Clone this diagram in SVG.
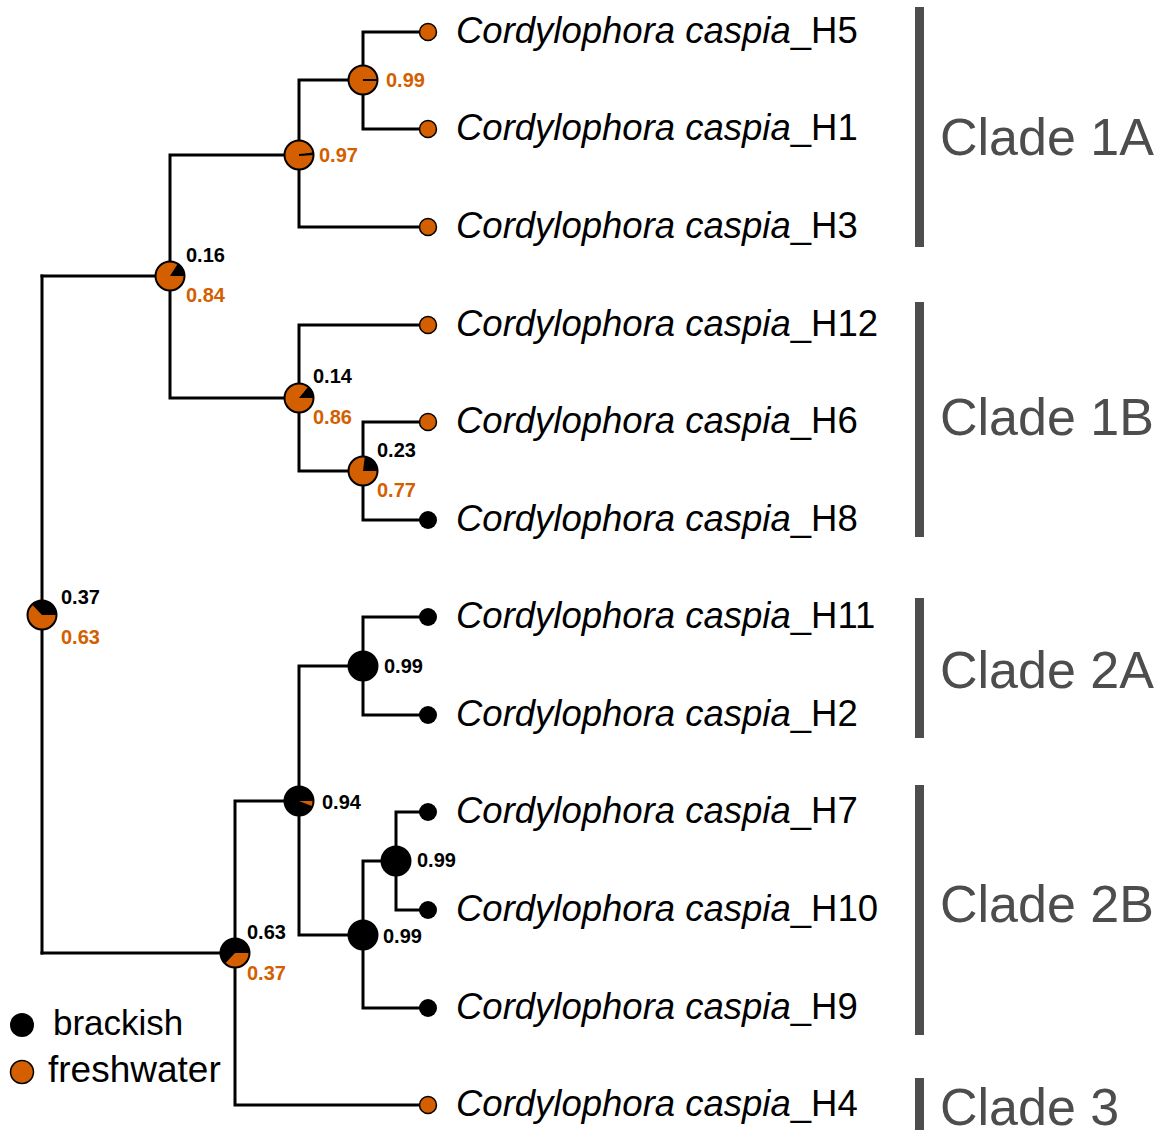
<svg xmlns="http://www.w3.org/2000/svg" width="1165" height="1130" viewBox="0 0 1165 1130">
  <style>
    .br { fill: none; stroke: #000; stroke-width: 3; stroke-linecap: square; }
    .tipF { fill: #d35f00; stroke: #000; stroke-width: 1.5; }
    .tipB { fill: #000; }
    .pieBg { fill: #d35f00; }
    .pieBk { fill: #000; }
    .pieRim { fill: none; stroke: #000; stroke-width: 2; }
    .tip { font-family: "Liberation Sans", Arial, sans-serif; font-size: 36.5px; fill: #000; }
    .tip tspan.sp { font-style: italic; }
    .pp { font-family: "Liberation Sans", Arial, sans-serif; font-size: 20px; font-weight: bold; }
    .pb { fill: #000; }
    .po { fill: #d35f00; }
    .bar { fill: #4d4d4d; }
    .clade { font-family: "Liberation Sans", Arial, sans-serif; font-size: 52px; fill: #4d4d4d; }
    .leg { font-family: "Liberation Sans", Arial, sans-serif; font-size: 35px; fill: #000; }
  </style>

  <!-- branches -->
  <g id="connectors">
    <path class="br" d="M42,276 V953"/>
    <path class="br" d="M42,276 H170"/>
    <path class="br" d="M42,953 H235"/>
    <path class="br" d="M170,155 V398 M170,155 H299 M170,398 H299"/>
    <path class="br" d="M299,80 V227 M299,80 H363 M299,227 H428"/>
    <path class="br" d="M363,32 V129 M363,32 H428 M363,129 H428"/>
    <path class="br" d="M299,325 V471 M299,325 H428 M299,471 H363"/>
    <path class="br" d="M363,422 V520 M363,422 H428 M363,520 H428"/>
    <path class="br" d="M235,801 V1105 M235,801 H299 M235,1105 H428"/>
    <path class="br" d="M299,666 V935 M299,666 H363 M299,935 H363"/>
    <path class="br" d="M363,617 V715 M363,617 H428 M363,715 H428"/>
    <path class="br" d="M363,861 V1008 M363,861 H396 M363,1008 H428"/>
    <path class="br" d="M396,812 V910 M396,812 H428 M396,910 H428"/>
  </g>

  <!-- ancestral state pies -->
  <g id="node-root">
    <circle class="pieBg" cx="42" cy="615" r="14.5"/>
    <path class="pieBk" d="M42,615 L56.5,615 A14.5,14.5 0 0 0 32.07,604.43 Z"/>
    <circle class="pieRim" cx="42" cy="615" r="14.5"/>
    <text class="pp pb" x="61" y="604">0.37</text>
    <text class="pp po" x="61" y="644">0.63</text>
  </g>
  <g id="node-clade1">
    <circle class="pieBg" cx="170" cy="276" r="14.5"/>
    <path class="pieBk" d="M170,276 L184.5,276 A14.5,14.5 0 0 0 177.77,263.76 Z"/>
    <circle class="pieRim" cx="170" cy="276" r="14.5"/>
    <text class="pp pb" x="186" y="262">0.16</text>
    <text class="pp po" x="186" y="302">0.84</text>
  </g>
  <g id="node-clade1A">
    <circle class="pieBg" cx="299" cy="155" r="14.5"/>
    <path class="pieBk" d="M299,155 L313.5,155 A14.5,14.5 0 0 0 313.24,152.28 Z"/>
    <path d="M299,155 L313.5,154" stroke="#000" stroke-width="2"/>
    <circle class="pieRim" cx="299" cy="155" r="14.5"/>
    <text class="pp po" x="319" y="162">0.97</text>
  </g>
  <g id="node-H5-H1">
    <circle class="pieBg" cx="363" cy="80" r="14.5"/>
    <path d="M363,80 L377.5,80" stroke="#000" stroke-width="2"/>
    <circle class="pieRim" cx="363" cy="80" r="14.5"/>
    <text class="pp po" x="386" y="87">0.99</text>
  </g>
  <g id="node-clade1B">
    <circle class="pieBg" cx="299" cy="398" r="14.5"/>
    <path class="pieBk" d="M299,398 L313.5,398 A14.5,14.5 0 0 0 308.24,386.83 Z"/>
    <circle class="pieRim" cx="299" cy="398" r="14.5"/>
    <text class="pp pb" x="313" y="383">0.14</text>
    <text class="pp po" x="313" y="424">0.86</text>
  </g>
  <g id="node-H6-H8">
    <circle class="pieBg" cx="363" cy="471" r="14.5"/>
    <path class="pieBk" d="M363,471 L377.5,471 A14.5,14.5 0 0 0 364.82,456.61 Z"/>
    <circle class="pieRim" cx="363" cy="471" r="14.5"/>
    <text class="pp pb" x="377" y="457">0.23</text>
    <text class="pp po" x="377" y="497">0.77</text>
  </g>
  <g id="node-clade2-3">
    <circle class="pieBg" cx="235" cy="953" r="14.5"/>
    <path class="pieBk" d="M235,953 L249.5,953 A14.5,14.5 0 1 0 225.07,963.57 Z"/>
    <circle class="pieRim" cx="235" cy="953" r="14.5"/>
    <text class="pp pb" x="247" y="939">0.63</text>
    <text class="pp po" x="247" y="980">0.37</text>
  </g>
  <g id="node-clade2">
    <circle class="pieBg" cx="299" cy="801" r="14.5"/>
    <path class="pieBk" d="M299,801 L313.5,801 A14.5,14.5 0 1 0 312.48,806.34 Z"/>
    <circle class="pieRim" cx="299" cy="801" r="14.5"/>
    <text class="pp pb" x="322" y="809">0.94</text>
  </g>
  <g id="node-clade2A">
    <circle class="pieBk" cx="363" cy="666" r="15.5"/>
    <text class="pp pb" x="384" y="673">0.99</text>
  </g>
  <g id="node-clade2B">
    <circle class="pieBk" cx="363" cy="935" r="15.5"/>
    <text class="pp pb" x="383" y="943">0.99</text>
  </g>
  <g id="node-H7-H10">
    <circle class="pieBk" cx="396" cy="861" r="15.5"/>
    <text class="pp pb" x="417" y="867">0.99</text>
  </g>

  <!-- tips -->
  <g id="tip-H5"><circle class="tipF" cx="428" cy="32" r="8.5"/><text class="tip" x="456" y="43"><tspan class="sp">Cordylophora caspia</tspan>_H5</text></g>
  <g id="tip-H1"><circle class="tipF" cx="428" cy="129" r="8.5"/><text class="tip" x="456" y="140"><tspan class="sp">Cordylophora caspia</tspan>_H1</text></g>
  <g id="tip-H3"><circle class="tipF" cx="428" cy="227" r="8.5"/><text class="tip" x="456" y="238"><tspan class="sp">Cordylophora caspia</tspan>_H3</text></g>
  <g id="tip-H12"><circle class="tipF" cx="428" cy="325" r="8.5"/><text class="tip" x="456" y="336"><tspan class="sp">Cordylophora caspia</tspan>_H12</text></g>
  <g id="tip-H6"><circle class="tipF" cx="428" cy="422" r="8.5"/><text class="tip" x="456" y="433"><tspan class="sp">Cordylophora caspia</tspan>_H6</text></g>
  <g id="tip-H8"><circle class="tipB" cx="428" cy="520" r="9"/><text class="tip" x="456" y="531"><tspan class="sp">Cordylophora caspia</tspan>_H8</text></g>
  <g id="tip-H11"><circle class="tipB" cx="428" cy="617" r="9"/><text class="tip" x="456" y="628"><tspan class="sp">Cordylophora caspia</tspan>_H11</text></g>
  <g id="tip-H2"><circle class="tipB" cx="428" cy="715" r="9"/><text class="tip" x="456" y="726"><tspan class="sp">Cordylophora caspia</tspan>_H2</text></g>
  <g id="tip-H7"><circle class="tipB" cx="428" cy="812" r="9"/><text class="tip" x="456" y="823"><tspan class="sp">Cordylophora caspia</tspan>_H7</text></g>
  <g id="tip-H10"><circle class="tipB" cx="428" cy="910" r="9"/><text class="tip" x="456" y="921"><tspan class="sp">Cordylophora caspia</tspan>_H10</text></g>
  <g id="tip-H9"><circle class="tipB" cx="428" cy="1008" r="9"/><text class="tip" x="456" y="1019"><tspan class="sp">Cordylophora caspia</tspan>_H9</text></g>
  <g id="tip-H4"><circle class="tipF" cx="428" cy="1105" r="8.5"/><text class="tip" x="456" y="1116"><tspan class="sp">Cordylophora caspia</tspan>_H4</text></g>

  <!-- clade brackets -->
  <g id="clade-1A"><rect class="bar" x="915" y="7" width="9" height="240"/><text class="clade" x="940" y="155">Clade 1A</text></g>
  <g id="clade-1B"><rect class="bar" x="915" y="302" width="9" height="235"/><text class="clade" x="940" y="435">Clade 1B</text></g>
  <g id="clade-2A"><rect class="bar" x="915" y="598" width="9" height="140"/><text class="clade" x="940" y="688">Clade 2A</text></g>
  <g id="clade-2B"><rect class="bar" x="915" y="785" width="9" height="250"/><text class="clade" x="940" y="922">Clade 2B</text></g>
  <g id="clade-3"><rect class="bar" x="915" y="1078" width="9" height="60"/><text class="clade" x="940" y="1125">Clade 3</text></g>

  <!-- legend -->
  <g id="legend">
    <circle fill="#000" cx="22" cy="1025" r="12"/>
    <text class="leg" x="53" y="1035">brackish</text>
    <circle fill="#d35f00" stroke="#000" stroke-width="1.5" cx="22" cy="1072" r="11.5"/>
    <text class="leg" x="48" y="1082" style="font-size:37px">freshwater</text>
  </g>
</svg>
